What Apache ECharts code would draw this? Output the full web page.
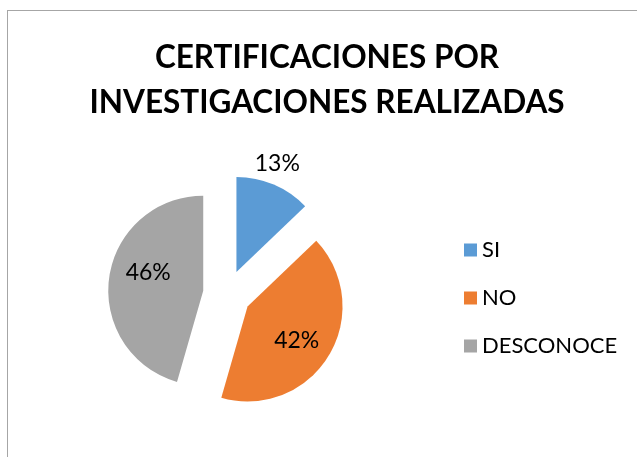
<!DOCTYPE html>
<html>
<head>
<meta charset="utf-8">
<script src="https://cdn.jsdelivr.net/npm/echarts@6/dist/echarts.min.js"></script>
<style>
  html, body { margin: 0; padding: 0; background: #fff; }
  #frame { position: absolute; left: 7px; top: 10px; width: 700px; height: 500px; border: 1px solid #a6a6a6; }
  #chart { position: absolute; left: 0; top: 0; width: 637px; height: 457px; }
</style>
</head>
<body>
<div id="frame"></div>
<div id="chart"></div>
<script>
// datos del gráfico
var categorias = ['SI', 'NO', 'DESCONOCE'];
var valores = [13, 42, 46];
var colores = ['#5B9BD5', '#ED7D31', '#A5A5A5'];
var titulo = 'CERTIFICACIONES POR\nINVESTIGACIONES REALIZADAS';

// desplazamiento de cada etiqueta respecto a su posición "inside"
var ajusteEtiquetas = [[21, -62], [6, 8], [-5, -11]];

var chart = echarts.init(document.getElementById('chart'));

var datos = categorias.map(function (c, i) {
    return { name: c, value: valores[i], selected: true, itemStyle: { color: colores[i] } };
});

chart.setOption({
    animation: false,
    title: {
        text: titulo,
        left: 322,
        top: 30,
        textAlign: 'center',
        textStyle: {
            fontFamily: 'Lato',
            fontWeight: 'bold',
            fontSize: 31.5,
            lineHeight: 45,
            color: '#000'
        }
    },
    legend: {
        orient: 'vertical',
        left: 459,
        top: 234,
        icon: 'rect',
        itemWidth: 13,
        itemHeight: 13,
        itemGap: 26,
        selectedMode: false,
        textStyle: { fontFamily: 'Lato', fontSize: 22, color: '#000' },
        data: categorias
    },
    series: [{
        type: 'pie',
        center: [227, 294],
        radius: 95,
        startAngle: 90,
        percentPrecision: 2,
        selectedMode: 'multiple',
        selectedOffset: 24,
        emphasis: { disabled: true },
        label: {
            show: true,
            position: 'inside',
            // como Excel: cada porcentaje se redondea por separado
            formatter: function (p) { return Math.round(p.percent) + '%'; },
            fontFamily: 'Lato',
            fontSize: 23,
            color: '#000'
        },
        labelLine: { show: false },
        labelLayout: function (p) {
            var a = ajusteEtiquetas[p.dataIndex];
            return { dx: a[0], dy: a[1] };
        },
        data: datos
    }]
});
</script>
</body>
</html>
